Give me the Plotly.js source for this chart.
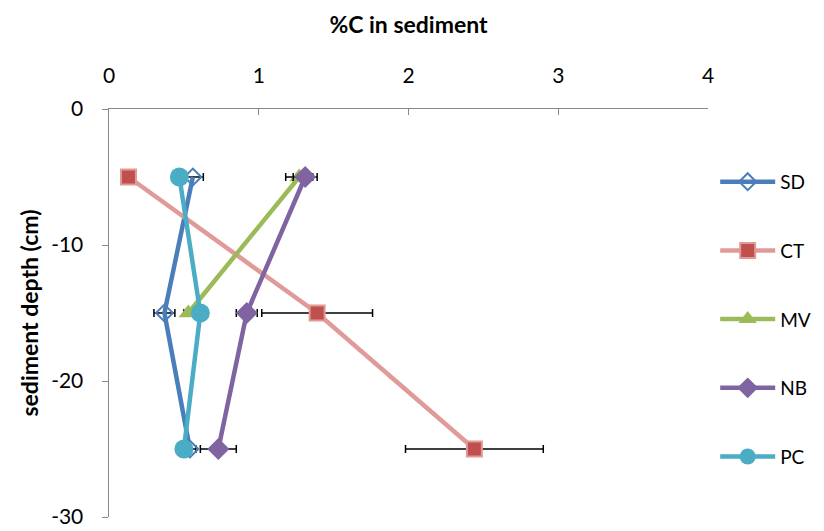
<!DOCTYPE html>
<html><head><meta charset="utf-8">
<script src="https://cdn.plot.ly/plotly-3.0.1.min.js"></script>
<style>html,body{margin:0;padding:0;background:#fff}#chart{width:824px;height:531px}</style>
</head><body><div id="chart"></div>
<script>
const depths = [-5, -15, -25];
const seriesNames = ['SD', 'CT', 'MV', 'NB', 'PC'];
const SD = [0.56, 0.37, 0.54];
const SD_err = [0.07, 0.07, 0.04];
const CT = [0.13, 1.39, 2.44];
const CT_err = [0, 0.37, 0.46];
const MV = [1.27, 0.53, null];
const MV_err = [0.09, 0.03, 0];
const NB = [1.31, 0.92, 0.73];
const NB_err = [0.08, 0.07, 0.12];
const PC = [0.47, 0.61, 0.50];
const PC_err = [0.03, 0.03, 0.03];
const xTickVals = [0, 1, 2, 3, 4];
const xTickText = ['0', '1', '2', '3', '4'];
const yTickVals = [0, -10, -20, -30];
const yTickText = ['0', '-10', '-20', '-30'];

const vals = [SD, CT, MV, NB, PC];
const errs = [SD_err, CT_err, MV_err, NB_err, PC_err];
const styles = [
  {line:'#4a7ebb', marker:{symbol:'diamond-open', color:'#4a7ebb', size:13, line:{width:2,color:'#4a7ebb'}}},
  {line:'#e09a98', marker:{symbol:'square', color:'#c0504d', size:15, line:{width:2,color:'#e09a98'}}},
  {line:'#9bbb59', marker:{symbol:'triangle-up', color:'#9bbb59', size:17, line:{width:0}}},
  {line:'#8064a2', marker:{symbol:'diamond', color:'#8064a2', size:17, line:{width:0}}},
  {line:'#4bacc6', marker:{symbol:'circle', color:'#4bacc6', size:19, line:{width:0}}}
];

const traces = seriesNames.map((n, i) => ({
  type: 'scatter', mode: 'lines+markers', name: n, legendgroup: n,
  x: vals[i], y: depths,
  line: {color: styles[i].line, width: 4.5},
  marker: styles[i].marker,
  error_x: {type:'data', array: errs[i], visible:true, color:'#000', thickness:1.5, width:4}
}));

const font = 'Lato, "Open Sans", sans-serif';
const layout = {
  width: 824, height: 531,
  margin: {l:109, r:116, t:109, b:14, autoexpand:false},
  paper_bgcolor:'#fff', plot_bgcolor:'#fff',
  font: {family: font, color:'#000', size:20},
  showlegend: true,
  legend: {x: 1.012, xanchor:'left', y: 0.868, yanchor:'top', font:{size:19, family:font},
           tracegroupgap: 41, itemwidth: 55, bgcolor:'rgba(0,0,0,0)'},
  xaxis: {
    range:[0,4], side:'top', tickvals:xTickVals, ticktext:xTickText, showgrid:false, zeroline:false,
    showline:true, linecolor:'#888', linewidth:1.5, ticks:'inside', ticklen:6, tickcolor:'#888',
    tickfont:{size:21}, ticklabelstandoff:16, fixedrange:true, automargin:false,
    title:{text:'<b>%C in sediment</b>', font:{size:23}, standoff:22}
  },
  yaxis: {
    range:[-30,0], tickvals:yTickVals, ticktext:yTickText, showgrid:false, zeroline:false,
    showline:true, linecolor:'#888', linewidth:1.5, ticks:'outside', ticklen:6, tickcolor:'#888',
    tickfont:{size:21}, ticklabelstandoff:14, fixedrange:true, automargin:false,
    title:{text:'<b>sediment depth (cm)</b>', font:{size:23}, standoff:6}
  }
};
Plotly.newPlot('chart', traces, layout, {displayModeBar:false, staticPlot:true});
</script></body></html>
